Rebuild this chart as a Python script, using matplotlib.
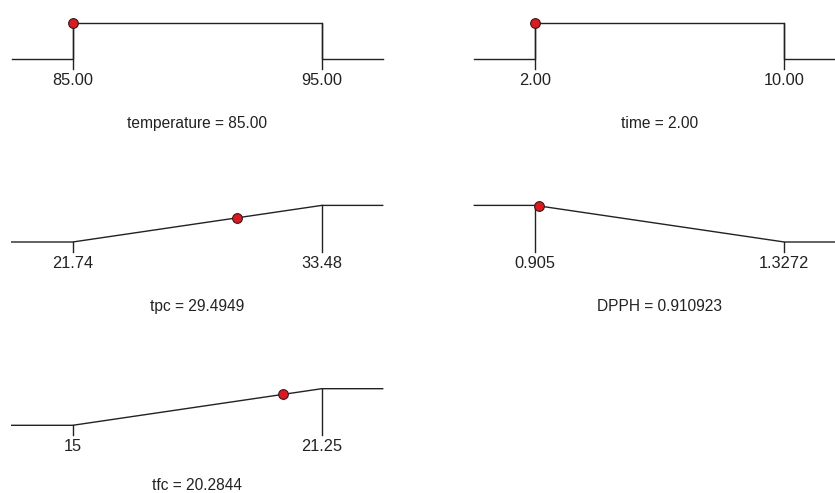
import numpy as np
import matplotlib
matplotlib.use('Agg')
import matplotlib.pyplot as plt

plt.rcParams['font.family'] = ['Liberation Sans', 'DejaVu Sans']

# desirability ramps
names = ['temperature', 'time', 'tpc', 'DPPH', 'tfc']
lows = [85.0, 2.0, 21.74, 0.905, 15.0]
highs = [95.0, 10.0, 33.48, 1.3272, 21.25]
low_labels = ['85.00', '2.00', '21.74', '0.905', '15']
high_labels = ['95.00', '10.00', '33.48', '1.3272', '21.25']
values = [85.00, 2.00, 29.4949, 0.910923, 20.2844]
value_labels = ['85.00', '2.00', '29.4949', '0.910923', '20.2844']
goals = ['range', 'range', 'maximize', 'minimize', 'maximize']
rows = [0, 0, 1, 1, 2]
cols = [0, 1, 0, 1, 0]

W, H = 835, 493
fig = plt.figure(figsize=(W / 100, H / 100), dpi=100)

col_left = [72.7, 535.3]   # pixel x of the low bound
span_px = 249.0
row_bottom = [59.3, 242.0, 425.3]  # pixel y of d = 0
height_px = 36.6
ext = 0.245


def desir(goal, x, lo, hi):
    if goal == 'range':
        return 1.0 if lo <= x <= hi else 0.0
    t = (x - lo) / (hi - lo)
    t = min(max(t, 0.0), 1.0)
    return t if goal == 'maximize' else 1.0 - t


for i in range(len(names)):
    lo, hi = lows[i], highs[i]
    R = hi - lo
    x0 = col_left[cols[i]]
    yb = row_bottom[rows[i]]
    ax = fig.add_axes([x0 / W, (H - yb) / H, span_px / W, height_px / H])
    ax.set_xlim(lo, hi)
    ax.set_ylim(0, 1)
    ax.axis('off')

    g = goals[i]
    if g == 'range':
        xs = [lo - ext * R, lo, lo, hi, hi, hi + ext * R]
        ys = [0, 0, 1, 1, 0, 0]
    elif g == 'maximize':
        xs = [lo - ext * R, lo, hi, hi + ext * R]
        ys = [0, 0, 1, 1]
    else:
        xs = [lo - ext * R, lo, hi, hi + ext * R]
        ys = [1, 1, 0, 0]
    ax.plot(xs, ys, color='#222222', lw=1.0, clip_on=False, solid_joinstyle='miter')

    tick = -9.8 / height_px
    for b in (lo, hi):
        ax.plot([b, b], [desir(g, b, lo, hi), tick], color='#222222', lw=1.0, clip_on=False)

    lab_y = -21.0 / height_px
    ax.text(lo, lab_y, low_labels[i], ha='center', va='center', fontsize=11.8, color='#222222')
    ax.text(hi, lab_y, high_labels[i], ha='center', va='center', fontsize=11.8, color='#222222')

    # title below the ramp, kept inside the figure for the last row
    tit_px = min(yb + 64.5, H - 8.0)
    tit_y = -(tit_px - yb) / height_px
    ax.text((lo + hi) / 2, tit_y, names[i] + ' = ' + value_labels[i],
            ha='center', va='center', fontsize=11.2, color='#222222')

    ax.plot(values[i], desir(g, values[i], lo, hi), 'o', ms=7, color='#e8141c',
            mec='#222222', mew=0.8, clip_on=False, zorder=5)

fig.savefig('out.png', dpi=100)
